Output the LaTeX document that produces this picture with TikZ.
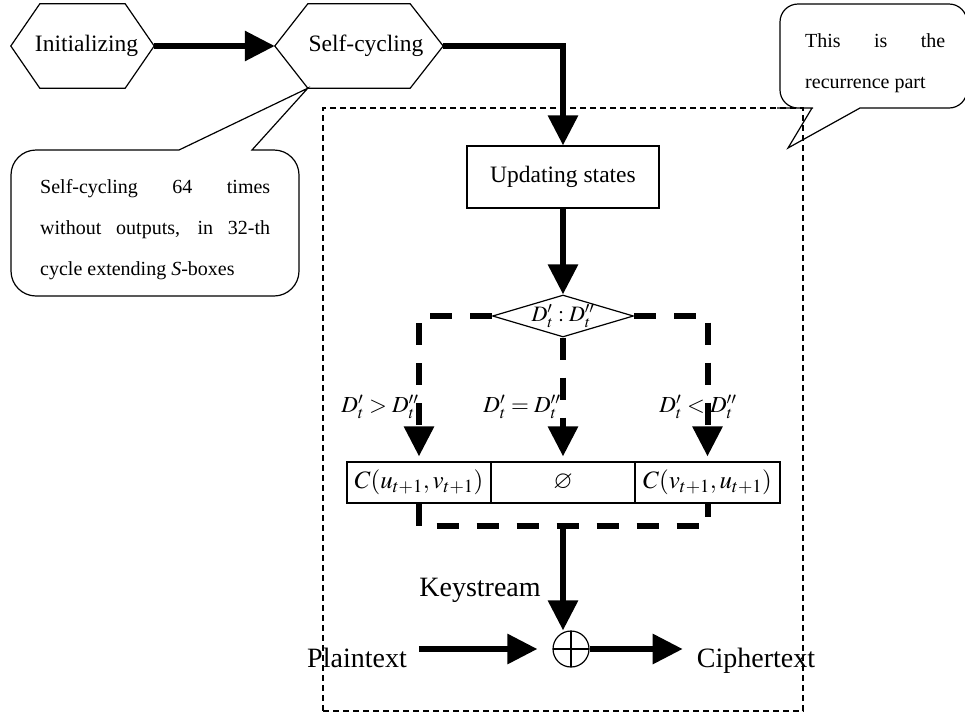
\documentclass[tikz,border=0pt]{standalone}
\usepackage{amsmath}
\usepackage{amssymb}
\usepackage{mathptmx}
\usepackage{fontspec}
\setmainfont{Liberation Serif}
\usepackage{tikz}
\usetikzlibrary{shapes,arrows.meta}
\usetikzlibrary{calc}

\begin{document}
\begin{tikzpicture}[x=1pt,y=-1pt]

		\tikzstyle{outline} = [line width=1.2pt]
		\tikzstyle{hexa}    = [minimum height=84pt, inner sep=0pt, font=\fontsize{23.5}{28}\selectfont]
		\tikzstyle{box}     = [rectangle, draw, outline, inner sep=0pt, font=\fontsize{23.5}{28}\selectfont]
		\tikzstyle{cell}    = [rectangle, draw, outline, minimum height=41pt, minimum width=144pt, inner sep=0pt, font=\fontsize{25}{29}\selectfont]
		\tikzstyle{cond}    = [inner sep=0pt, font=\fontsize{23}{27}\selectfont]
		\tikzstyle{word}    = [inner sep=0pt, anchor=base, font=\fontsize{28}{33}\selectfont]
		\tikzstyle{note}    = [inner sep=0pt, anchor=north west, align=justify, font=\fontsize{20}{41}\selectfont]
		\tikzstyle{flow}    = [line width=6pt, -{Triangle[length=30pt, width=29pt]}]
		\tikzstyle{branch}  = [flow, dash pattern=on 22pt off 18pt, shorten >=5pt]
		\useasboundingbox (0,0) rectangle (965,716);
		%%Region
		\node [draw, outline, dash pattern=on 6pt off 4pt, minimum width=480pt, minimum height=603pt](recur) at (563,409.5) {};
		%%Nodes
		\node [hexa, minimum width=143pt](init) at (82.5,46) {\hspace*{8pt}Initializing};
		\node [hexa, minimum width=168pt](selfc) at (359,46) {\hspace*{14pt}Self-cycling};
		\foreach \n/\d in {init/29,selfc/33}
			\draw [outline] (\n.west) -- ([xshift=\d pt]\n.north west) -- ([xshift=-\d pt]\n.north east) -- (\n.east) -- ([xshift=-\d pt]\n.south east) -- ([xshift=\d pt]\n.south west) -- cycle;
		\node [box, minimum width=192pt, minimum height=62pt](upd) at (563,177) {Updating states};
		\node [diamond, draw, outline, aspect=3.36, minimum width=141pt, minimum height=42pt, inner sep=0pt, label={[cond, font=\fontsize{22}{26}\selectfont]center:$D'_t : D''_t$}](cmp) at (563,316) {};
		\node [cell](c2) at (563,482.5) {$\varnothing$};
		\node [cell](c1) at ($(c2) + (-144, 0)$) {$C(u_{t+1}, v_{t+1})$};
		\node [cell, minimum width=145pt](c3) at ($(c2) + (144.5, 0)$) {$C(v_{t+1}, u_{t+1})$};
		\node [cond](gt) at (380,407) {$D'_t > D''_t$};
		\node [cond](eq) at (522,407) {$D'_t = D''_t$};
		\node [cond](lt) at (698,407) {$D'_t < D''_t$};
		\coordinate (join) at (563,526);
		\node [circle, draw, outline, minimum size=36pt, inner sep=0pt, path picture={\draw [outline] (path picture bounding box.north) -- (path picture bounding box.south) (path picture bounding box.west) -- (path picture bounding box.east);}](xor) at (571,649) {};
		\node [word](ks) at (480,596) {Keystream};
		\node [word](plain) at (357,667) {Plaintext};
		\node [word](ciph) at (756,667) {Ciphertext};
		%%Notes
		\node [note, text width=230pt](n1) at (40,179.3) {Self-cycling 64 times\linebreak without outputs, in 32-th\linebreak cycle extending \textit{S}-boxes};
		\node [note, text width=140pt](n2) at (805,33.3) {This is the\linebreak recurrence part};
		\draw [outline] (179,150) -- ([xshift=33pt]selfc.south west) -- (252,150) -- (270,150) [rounded corners=25pt] -| (299,296) -| (11,150) -- (150,150) [sharp corners] -- cycle;
		\draw [outline] (812,108) -- (788,148) -- (860,108) -- (880,108) [rounded corners=18pt] -| (967,4) -| (780,108) -- (795,108) [sharp corners] -- cycle;
		%%Edges
		\draw [flow] (init.east) -- (selfc.west);
		\draw [flow] (selfc.east) -| (upd.north);
		\draw [flow] (upd.south) -- (cmp.north);
		\draw [branch] (cmp.west) -| (c1.north);
		\draw [branch] (cmp.south) -- (c2.north);
		\draw [branch] (cmp.east) -| (c3.north);
		\draw [line width=6pt, dash pattern=on 22pt off 18pt] (c1.south) |- (join) -| (c3.south);
		\draw [flow] (join) -- (join |- xor.north);
		\draw [flow] ([xshift=12pt]plain.east |- xor.center) -- ([xshift=-15pt]xor.west);
		\draw [flow] (xor.east) -- ([xshift=-14pt]ciph.west |- xor.east);
	\end{tikzpicture}
\end{document}
